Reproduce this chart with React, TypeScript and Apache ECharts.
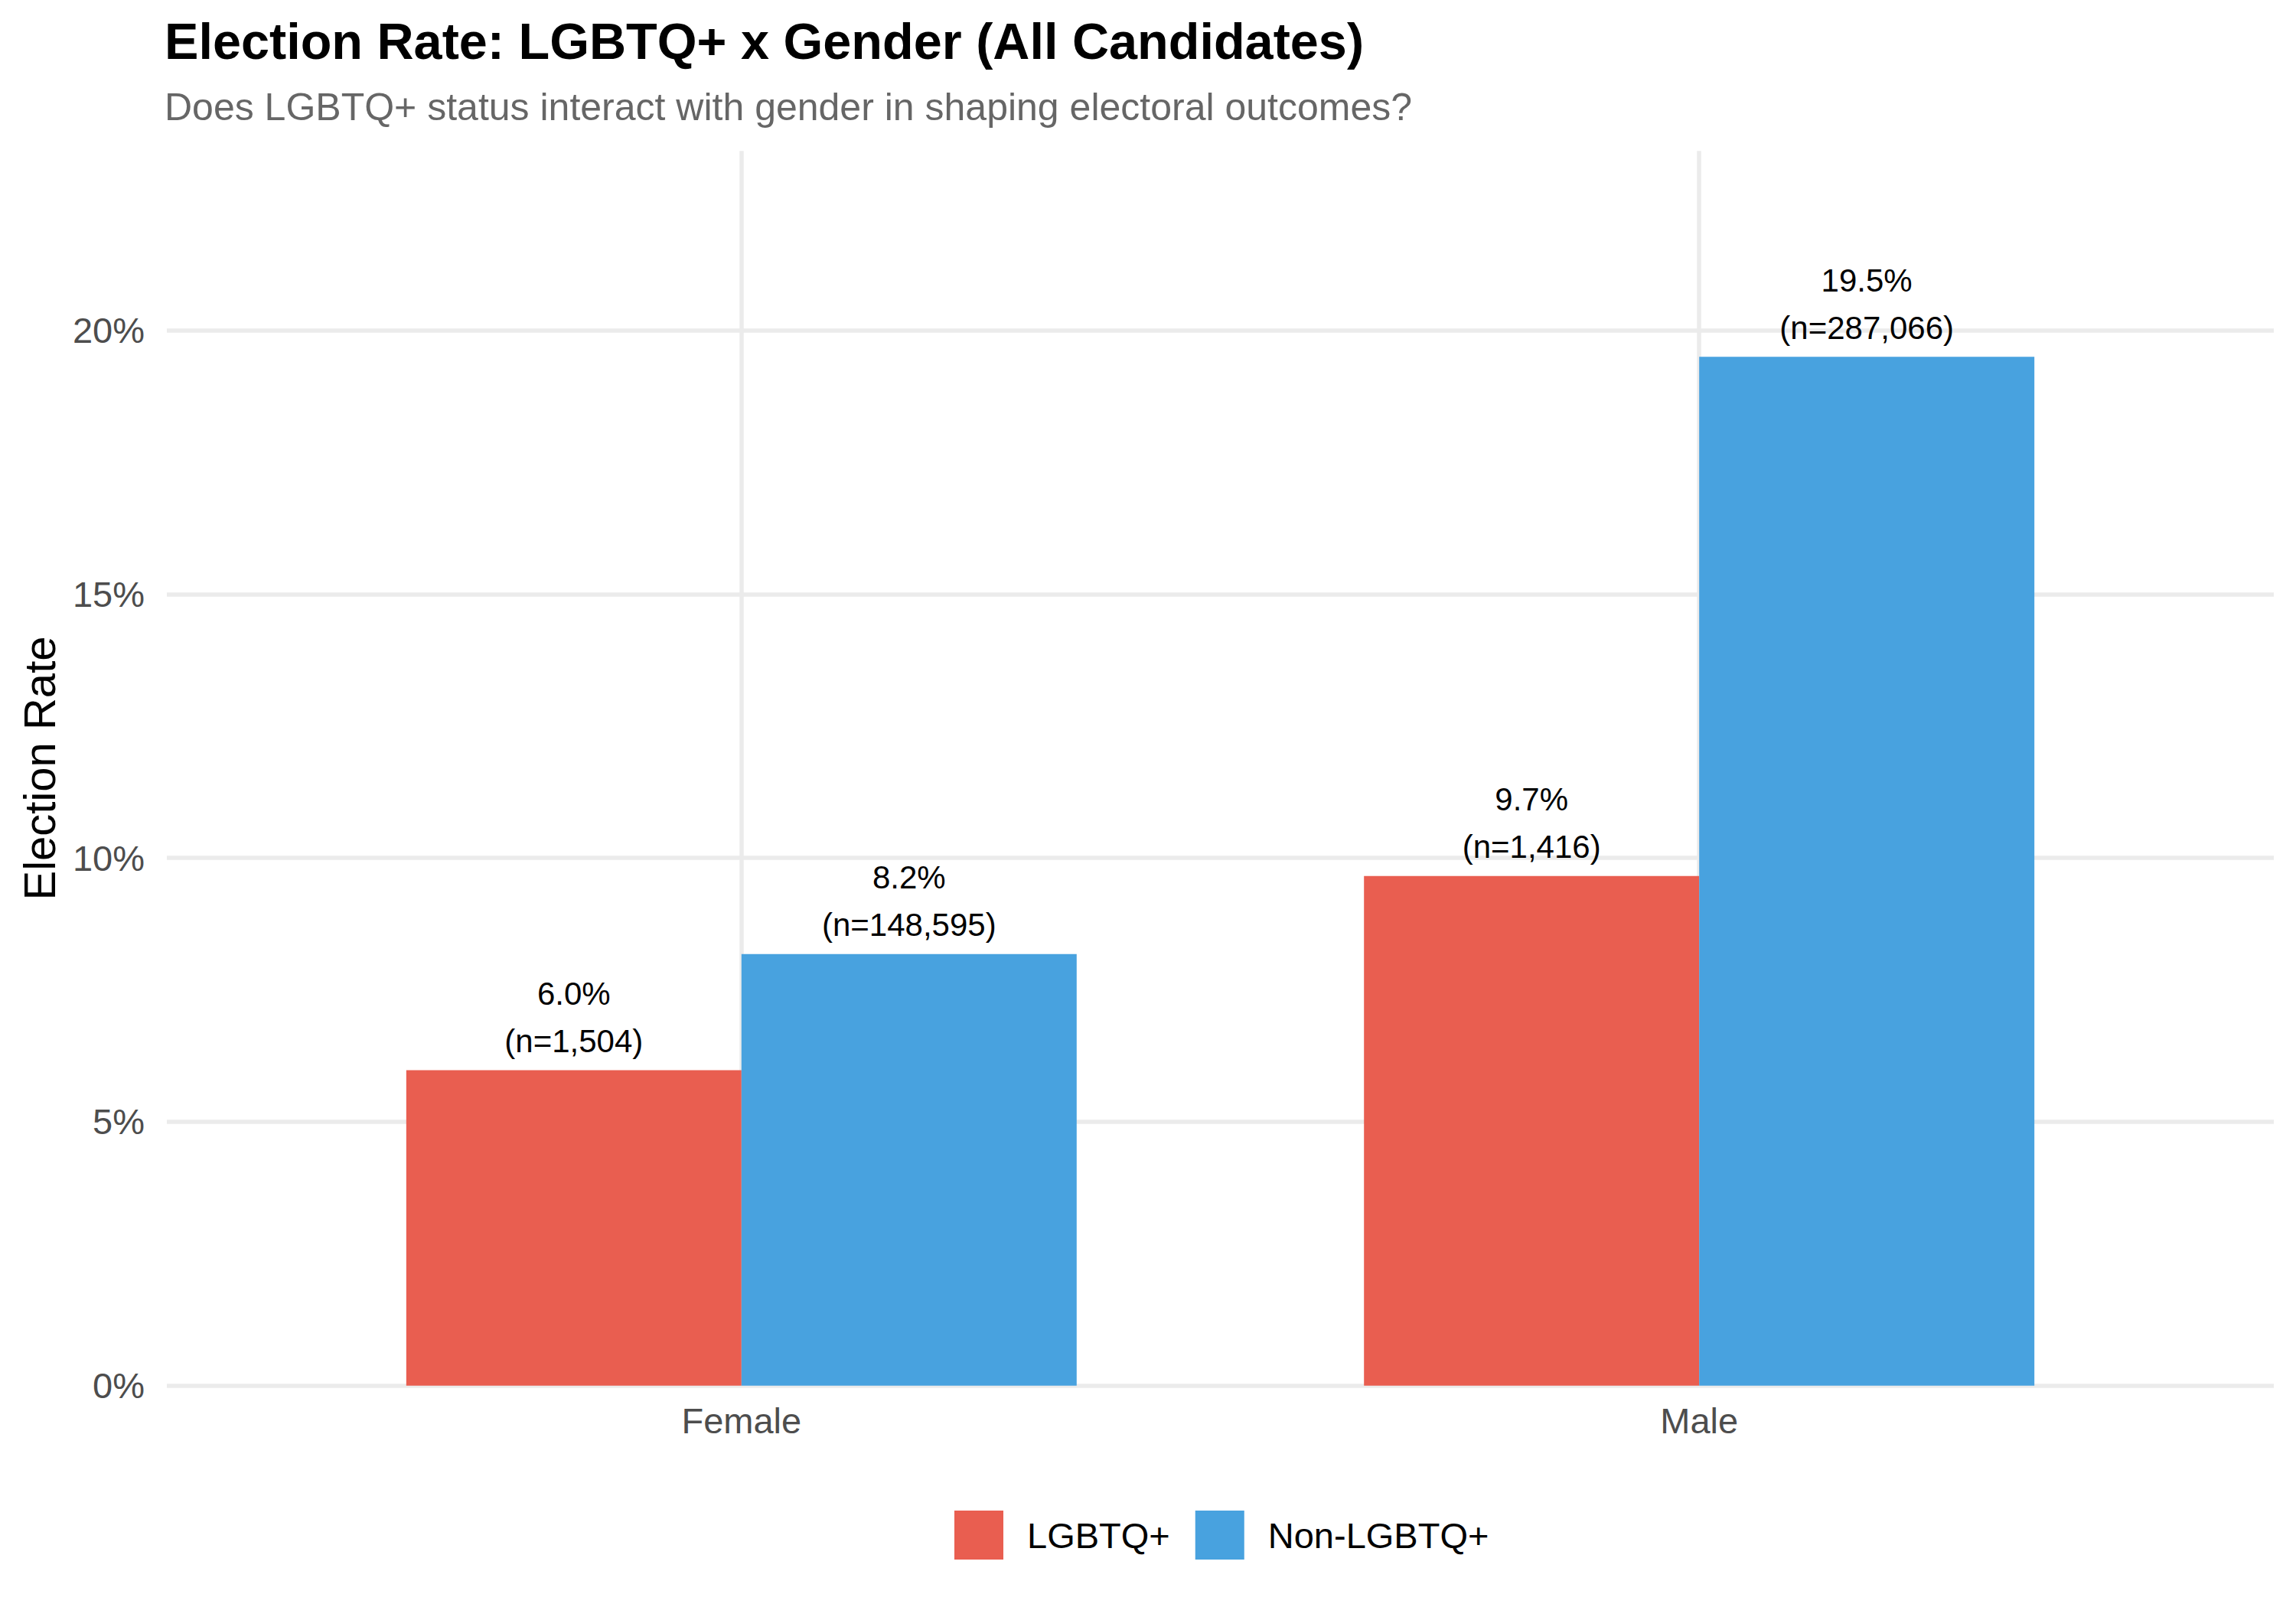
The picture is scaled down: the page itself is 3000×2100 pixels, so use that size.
import React, { useEffect, useRef } from "react";
import * as echarts from "echarts";

const categories = ["Female", "Male"];
const seriesNames = ["LGBTQ+", "Non-LGBTQ+"];
const lgbtqRates = [5.98, 9.66];
const nonLgbtqRates = [8.18, 19.5];
const lgbtqCounts = [1504, 1416];
const nonLgbtqCounts = [148595, 287066];
const yTicksMax = 20;
const yMax = 23.4;

const FONT = "'Liberation Sans', Arial, Helvetica, sans-serif";
const RED = "#E95E50";
const BLUE = "#48A2DF";

const W = 3000;
const H = 2100;
const panelLeft = 218;
const panelRight = 2971;
const zeroY = 1810.7;
const pxPerPct = 68.95;
const panelTop = zeroY - yMax * pxPerPct;
const gridTop0 = zeroY - yTicksMax * pxPerPct;
const unit = (panelRight - panelLeft) / 2.2;
const barGridLeft = panelLeft + 0.1 * unit;
const barGridRight = W - (barGridLeft + 2 * unit);
const barW = 0.35 * unit;

function makeLabel(counts: number[]) {
  return {
    show: true,
    position: "top",
    distance: 7,
    fontSize: 42,
    lineHeight: 62,
    color: "#000",
    fontFamily: FONT,
    formatter: (p: any) =>
      `${Number(p.value).toFixed(1)}%\n(n=${counts[p.dataIndex].toLocaleString("en-US")})`,
  };
}

export default function App() {
  const ref = useRef<HTMLDivElement>(null);
  useEffect(() => {
    if (!ref.current) return;
    const chart = echarts.init(ref.current, null, { renderer: "svg" });
    const gridLine = { color: "#EBEBEB", width: 5.5 };
    chart.setOption({
      animation: false,
      backgroundColor: "#fff",
      textStyle: { fontFamily: FONT },
      title: [
        {
          text: "Election Rate: LGBTQ+ x Gender (All Candidates)",
          left: 215,
          top: 20.6,
          padding: 0,
          textStyle: { fontSize: 66.6, fontWeight: "bold", color: "#000", fontFamily: FONT },
        },
        {
          text: "Does LGBTQ+ status interact with gender in shaping electoral outcomes?",
          left: 215,
          top: 114.5,
          padding: 0,
          textStyle: { fontSize: 50, fontWeight: "normal", color: "#666666", fontFamily: FONT },
        },
      ],
      legend: {
        data: seriesNames,
        left: 1247,
        top: 1974,
        padding: 0,
        icon: "rect",
        itemWidth: 64,
        itemHeight: 64,
        itemGap: 33,
        selectedMode: false,
        textStyle: { fontSize: 47, color: "#000", fontFamily: FONT, padding: [0, 0, 0, 26] },
      },
      grid: [
        {
          left: panelLeft,
          right: W - panelRight,
          top: gridTop0,
          bottom: H - zeroY,
          outerBoundsMode: "none",
          containLabel: false,
        },
        {
          left: barGridLeft,
          right: barGridRight,
          top: panelTop,
          bottom: H - zeroY,
          outerBoundsMode: "none",
          containLabel: false,
        },
      ],
      xAxis: [
        { type: "value", gridIndex: 0, show: false, min: 0, max: 1 },
        {
          type: "category",
          gridIndex: 1,
          data: categories,
          axisLine: { show: false },
          axisTick: { show: false },
          splitLine: { show: false },
          axisLabel: { fontSize: 47, color: "#4D4D4D", margin: 22, fontFamily: FONT },
        },
      ],
      yAxis: [
        {
          type: "value",
          gridIndex: 0,
          min: 0,
          max: yTicksMax,
          interval: 5,
          axisLine: { show: false },
          axisTick: { show: false },
          axisLabel: {
            fontSize: 47,
            color: "#4D4D4D",
            margin: 29,
            fontFamily: FONT,
            formatter: "{value}%",
          },
          splitLine: { show: true, lineStyle: gridLine },
        },
        {
          type: "value",
          gridIndex: 1,
          min: 0,
          max: yMax,
          axisLine: { show: false },
          axisTick: { show: false },
          axisLabel: { show: false },
          splitLine: { show: false },
          name: "Election Rate",
          nameLocation: "middle",
          nameGap: barGridLeft - 80,
          nameTextStyle: { fontSize: 58, color: "#000", fontFamily: FONT },
        },
      ],
      series: [
        {
          name: "category-grid",
          type: "line",
          xAxisIndex: 1,
          yAxisIndex: 1,
          data: [],
          silent: true,
          symbol: "none",
          z: 1,
          markLine: {
            silent: true,
            symbol: "none",
            z: 1,
            label: { show: false },
            emphasis: { disabled: true },
            lineStyle: { color: "#EBEBEB", width: 5.5, type: "solid" },
            data: categories.map((c) => ({ xAxis: c })),
          },
        },
        {
          name: seriesNames[0],
          type: "bar",
          xAxisIndex: 1,
          yAxisIndex: 1,
          data: lgbtqRates,
          barWidth: barW,
          barGap: "0%",
          itemStyle: { color: RED },
          label: makeLabel(lgbtqCounts),
          emphasis: { disabled: true },
          z: 2,
        },
        {
          name: seriesNames[1],
          type: "bar",
          xAxisIndex: 1,
          yAxisIndex: 1,
          data: nonLgbtqRates,
          barWidth: barW,
          barGap: "0%",
          itemStyle: { color: BLUE },
          label: makeLabel(nonLgbtqCounts),
          emphasis: { disabled: true },
          z: 2,
        },
      ],
    });
    return () => chart.dispose();
  }, []);
  return (
    <div
      ref={ref}
      style={{ position: "absolute", left: 0, top: 0, width: W, height: H }}
    />
  );
}
